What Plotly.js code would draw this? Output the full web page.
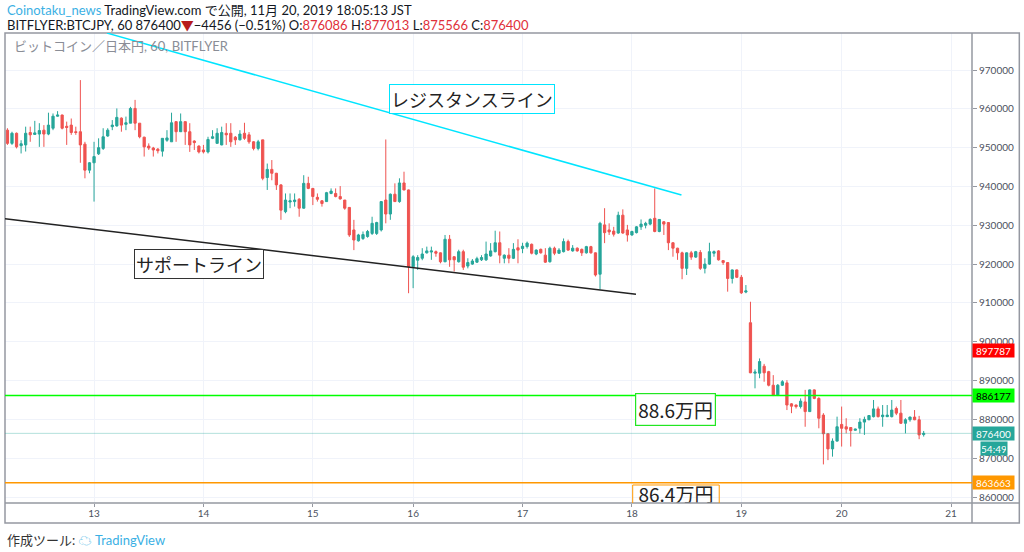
<!DOCTYPE html>
<html>
<head>
<meta charset="utf-8">
<script src="https://cdn.plot.ly/plotly-3.0.1.min.js"></script>
<style>html,body{margin:0;padding:0;background:#fff;}#chart{width:1024px;height:552px;}</style>
</head>
<body>
<div id="chart"></div>
<script>
// ---------- DATA ----------
const startTime = '2019-11-12T05:00:00Z';
const missingHours = ['2019-11-15 04:00', '2019-11-15 05:00', '2019-11-19 02:00', '2019-11-19 03:00'];

const opens = [
954500,951100,953700,950500,950700,953900,953400,953500,954500,953500,
955000,958100,958400,955500,955800,954100,954100,950900,944200,946100,
948400,949800,953000,955400,955600,957600,956000,956300,960100,956300,
952700,950400,949900,949600,949100,951900,951500,956700,954100,956700,
954100,951700,950400,949400,948900,952400,951100,950700,953700,953700,
952700,952000,953700,953300,951500,949800,952000,942300,944400,943400,
940400,933500,936000,936100,936700,934400,940800,939500,937200,936300,
936100,938200,938200,937400,936500,934600,928800,926000,926600,927100,
927900,927900,928800,936500,932900,938000,936100,940900,939100,919300,
921000,921500,922900,923100,923200,922900,920600,926400,921900,920600,
923200,919500,920000,920500,921100,921100,922100,923200,925500,921500,
922300,921500,924200,924000,924500,925100,922600,923800,922300,920600,
924100,922800,923200,925800,923400,924100,923800,922900,924500,922900,
917400,930100,928800,928500,928000,932600,928800,927500,928100,929600,
930000,930300,931800,928400,930900,930700,925500,924100,922900,918900,
922900,921800,923000,918900,920000,922800,923400,920900,920400,916300,
918500,916600,912800,904900,891900,891900,893700,892300,888800,886300,
888800,889400,884000,883700,883300,884500,882000,887600,885400,881100,
876300,872400,874400,878700,878100,877900,877200,877700,879300,879900,
880700,882700,880700,880700,880700,882800,881600,879000,879900,880600,
879900,876086];

const highs = [
955000,954100,953900,951900,955400,955400,956900,956300,955800,959000,
958800,959400,958500,956700,957500,955400,967400,951500,946300,951500,
952400,955000,955000,957100,960100,957800,958000,960500,962300,956300,
952800,951100,950200,949900,952400,954500,959000,956700,958800,956700,
956300,951900,950600,950700,952800,954500,955000,955400,956300,956300,
953000,954500,956400,954000,951700,952000,952000,945900,946800,943500,
940600,938200,938200,938200,937000,942900,942500,939600,938200,936500,
938600,939500,939500,940100,936500,934700,931400,927800,928400,928800,
932200,930900,936200,952100,938200,940800,942100,943800,939200,922300,
922300,924100,924500,924500,923500,923000,927500,927500,922000,923700,
923700,921500,921300,921900,922300,925800,925400,928600,928400,922500,
924100,925400,926400,925500,925800,925300,923800,924000,924100,924500,
924500,924100,926600,926300,924900,924300,924000,924700,924700,923000,
930900,934400,930500,929600,933500,934100,930100,928600,929800,931500,
930900,931800,939500,931600,931100,930800,925600,924200,923200,923000,
923400,923400,923600,921500,925500,923500,923600,921000,920500,918600,
918600,917200,914600,910300,892900,895700,894300,892500,891400,889100,
890100,890100,884200,883800,885400,887600,887700,887700,885700,881600,
876400,875100,880700,883300,880300,878000,877600,880300,880700,881100,
885000,883300,883700,883700,885000,883300,885000,880300,880700,882400,
880900,877013];

const lows = [
950700,950700,949800,948500,949000,951500,953300,950200,950200,953200,
954500,958000,954700,950700,953300,953300,946100,942100,943400,936100,
948100,949400,952800,954500,955400,954100,954500,956300,954500,952400,
947700,949400,947700,948500,947700,951500,951500,951500,954100,950700,
948900,949400,948500,948500,948500,952200,951100,950600,950700,950200,
950700,951900,952000,951000,949300,949300,941600,939100,941600,939100,
931400,933100,934400,934800,932200,934300,939300,935200,936100,934800,
936000,938000,937200,936600,934000,927000,923600,925800,926200,926800,
927500,927500,928400,930500,931400,936000,935800,939000,912500,913800,
918500,921000,922700,921100,921900,920200,920500,919300,918100,920400,
918500,918900,919800,920300,920800,920800,921900,923000,920200,920200,
920200,921300,920200,922800,924000,922500,922300,922700,920300,920400,
922300,922600,923000,923400,923200,923200,922100,922700,922700,916800,
913500,925400,927500,927100,927800,927800,925800,927300,927900,928800,
929200,930000,928200,928200,927500,923600,921900,921100,916100,917200,
921100,921600,918500,917600,919800,921900,920900,919800,912900,915000,
916400,912300,912500,891900,888000,890600,889700,888500,886000,886000,
888600,882400,881600,882800,882800,878100,881900,885200,877700,868400,
869500,870400,874300,873000,876400,873000,877100,876400,876000,879800,
880500,880500,878100,880600,880500,881100,878800,876400,879400,879800,
874900,875566];

const closes = [
951100,953700,950200,951000,953700,953300,953800,954400,953500,955800,
958100,958400,955000,955200,953900,953900,950700,944200,946100,947700,
950000,952800,954500,955800,957800,955800,956400,960100,956300,952800,
950200,949900,949400,949200,952400,952500,956400,954100,956700,954100,
950700,951300,948900,948900,952100,952800,953700,953900,953300,951500,
952000,953500,952400,951500,949800,951500,942100,944400,943400,940400,
933900,936500,936300,936500,934400,940800,939500,937400,936700,935600,
938400,938800,937400,936800,934400,927500,926200,927500,927600,928400,
930500,930700,936100,932900,938000,936100,940900,939100,919300,921900,
921700,922600,923400,923400,922800,920600,926400,921100,921100,923200,
919200,920400,920800,921400,921700,922600,923400,925500,922300,922300,
921500,923800,923600,924600,925400,922800,923600,922900,920500,924100,
922800,923600,925800,923600,924100,923400,922900,924500,922900,917200,
930500,928100,928300,927700,932600,928000,927500,928400,929600,930300,
930500,931500,928400,931500,930300,925500,924100,922900,918900,922900,
921800,923200,918900,920000,923200,923200,921100,920400,916300,918500,
916600,912600,913100,892000,892200,894900,892000,888800,886300,888800,
889700,883700,883400,883300,884700,882000,887600,885400,880300,876300,
872400,874400,878100,877700,877500,877100,877500,879300,880000,881000,
882700,880700,881100,881100,882400,881600,879000,879900,880600,879900,
876000,876400];

const dayTicks  = ['2019-11-13','2019-11-14','2019-11-15','2019-11-16','2019-11-17','2019-11-18','2019-11-19','2019-11-20','2019-11-21'];
const dayLabels = ['13','14','15','16','17','18','19','20','21'];

const resistancePts = {x: ['2019-11-13 02:51', '2019-11-18 10:52'], y: [979500, 937800]};
const supportPts    = {x: ['2019-11-12 04:28', '2019-11-18 00:53'], y: [931670, 912220]};
const greenLevel = 886177;
const orangeLevel = 863663;
const lastPrice = 876400;
const redTag = 897787;
const countdown = '54:49';

// ---------- BUILD ----------
function fmt(d){ return d.toISOString().slice(0,16).replace('T',' '); }
const times = [];
let t = Date.parse(startTime);
while (times.length < opens.length) {
  const s = fmt(new Date(t));
  if (!missingHours.includes(s)) times.push(s);
  t += 3600000;
}

const FONT = 'Lato, "Noto Sans CJK JP", sans-serif';
const JFONT = '"Noto Sans CJK JP", "Noto Sans", sans-serif';
const PL = 5, PR = 971.7, PT = 33, PB = 503;
const px = x => (x - PL) / (PR - PL);
const py = y => (PB - y) / (PB - PT);

const candles = {
  type: 'candlestick', x: times, open: opens, high: highs, low: lows, close: closes,
  increasing: {line: {color: '#26a69a', width: 1}, fillcolor: '#26a69a'},
  decreasing: {line: {color: '#ef5350', width: 1}, fillcolor: '#ef5350'},
  whiskerwidth: 0, hoverinfo: 'skip'
};

const clippedLabel = {
  type: 'scatter', mode: 'text', x: ['2019-11-18 09:39'], y: [860050], text: ['86.4万円'],
  textfont: {family: JFONT, size: 19, color: '#222'}, cliponaxis: true, hoverinfo: 'skip'
};

const shapes = [
  // outer frame
  {type:'rect', xref:'paper', yref:'paper', x0:0, x1:px(1019), y0:py(523), y1:1, line:{color:'#9598a1', width:1.5}},
  {type:'line', xref:'paper', yref:'paper', x0:0, x1:px(1019), y0:0, y1:0, line:{color:'#9598a1', width:1.5}},
  {type:'line', xref:'paper', yref:'paper', x0:1, x1:1, y0:py(523), y1:1, line:{color:'#9598a1', width:1.5}},
  // price lines
  {type:'line', xref:'paper', yref:'y', x0:0, x1:1, y0:lastPrice, y1:lastPrice, line:{color:'rgba(38,166,154,0.35)', width:1}},
  {type:'line', xref:'paper', yref:'y', x0:0, x1:1, y0:greenLevel, y1:greenLevel, line:{color:'#00ff00', width:1.5}},
  {type:'line', xref:'paper', yref:'y', x0:0, x1:1, y0:orangeLevel, y1:orangeLevel, line:{color:'#ff9800', width:1.5}},
  // trend lines
  {type:'line', xref:'x', yref:'y', x0:resistancePts.x[0], x1:resistancePts.x[1], y0:resistancePts.y[0], y1:resistancePts.y[1], line:{color:'#00e5ff', width:1.5}},
  {type:'line', xref:'x', yref:'y', x0:supportPts.x[0], x1:supportPts.x[1], y0:supportPts.y[0], y1:supportPts.y[1], line:{color:'#222', width:1.5}},
  // clipped box for 86.4万円
  {type:'rect', xref:'x', yref:'y', x0:'2019-11-18 00:10', x1:'2019-11-18 19:09', y0:850000, y1:863100, line:{color:'#ff9800', width:1}, fillcolor:'rgba(255,255,255,0)'}
];

function tag(y, text, bg, fg){
  return {xref:'paper', yref:'y', x:px(972), y:y, xanchor:'left', yanchor:'middle', text:text, showarrow:false,
    bgcolor:bg, font:{family:FONT, size:10, color:fg}, width:39, height:11, borderpad:1};
}

const annotations = [
  {xref:'paper', yref:'paper', x:0, y:py(10), xanchor:'left', yanchor:'middle', showarrow:false,
   text:'<span style="color:#3bb0e4">Coinotaku_news</span> TradingView.com で公開, 11月 20, 2019 18:05:13 JST',
   font:{family:FONT, size:13, color:'#131722'}},
  {xref:'paper', yref:'paper', x:0, y:py(25), xanchor:'left', yanchor:'middle', showarrow:false,
   text:'BITFLYER:BTCJPY, 60 876400<span style="color:#b71c1c">▼</span>−4456 (−0.51%) O:<span style="color:#e0303a">876086</span> H:<span style="color:#e0303a">877013</span> L:<span style="color:#e0303a">875566</span> C:<span style="color:#e0303a">876400</span>',
   font:{family:FONT, size:13, color:'#131722'}},
  {xref:'paper', yref:'paper', x:px(12), y:py(46), xanchor:'left', yanchor:'middle', showarrow:false,
   text:'ビットコイン／日本円, 60, BITFLYER', font:{family:FONT, size:13, color:'#8a8d96'}},
  {xref:'paper', yref:'paper', x:0, y:py(540), xanchor:'left', yanchor:'middle', showarrow:false,
   text:'作成ツール: <span style="color:#3bb0e4">☁ TradingView</span>', font:{family:FONT, size:13, color:'#333'}},
  // label boxes
  {xref:'x', yref:'y', x:'2019-11-16 13:00', y:962600, text:'レジスタンスライン', showarrow:false,
   font:{family:JFONT, size:18, color:'#222'}, bordercolor:'#00e5ff', borderwidth:1, borderpad:1, bgcolor:'#fff'},
  {xref:'x', yref:'y', x:'2019-11-13 23:04', y:919900, text:'サポートライン', showarrow:false,
   font:{family:JFONT, size:18, color:'#222'}, bordercolor:'#333', borderwidth:1, borderpad:1, bgcolor:'#fff'},
  {xref:'x', yref:'y', x:'2019-11-18 09:39', y:882500, text:'88.6万円', showarrow:false,
   font:{family:JFONT, size:19, color:'#222'}, bordercolor:'#22e622', borderwidth:1.2, borderpad:2, bgcolor:'#fff'},
  // axis tags
  tag(redTag, String(redTag), '#ff0000', '#fff'),
  tag(greenLevel, String(greenLevel), '#00ff00', '#000'),
  tag(lastPrice, String(lastPrice), '#26a69a', '#fff'),
  tag(orangeLevel, String(orangeLevel), '#ff9800', '#fff'),
  {xref:'paper', yref:'y', x:px(993.7), y:872600, xanchor:'center', yanchor:'middle', text:countdown, showarrow:false,
   bgcolor:'#26a69a', font:{family:FONT, size:10, color:'#fff'}, width:24, height:11, borderpad:1}
];

const layout = {
  width: 1024, height: 552,
  margin: {l: PL, r: 1024 - PR, t: PT, b: 552 - PB, pad: 0},
  paper_bgcolor: '#fff', plot_bgcolor: '#fff', showlegend: false,
  font: {family: FONT, size: 10, color: '#4c525e'},
  xaxis: {
    type: 'date', range: ['2019-11-12 04:28', '2019-11-21 04:36'],
    rangebreaks: [{values: ['2019-11-15 03:30:00', '2019-11-19 01:30:00'], dvalue: 7200000}],
    rangeslider: {visible: false}, tickvals: dayTicks, ticktext: dayLabels,
    ticks: 'outside', ticklen: 3, tickcolor: '#9598a1', ticklabelstandoff: -2, showgrid: true, gridcolor: '#f0f3fa',
    showline: false, zeroline: false, tickfont: {family: FONT, size: 10, color: '#4c525e'}, fixedrange: true
  },
  yaxis: {
    side: 'right', range: [858460, 979530], dtick: 10000, tick0: 0, tickformat: 'd',
    ticks: 'outside', ticklen: 4, tickcolor: '#9598a1', showgrid: true, gridcolor: '#f0f3fa',
    showline: false, zeroline: false, tickfont: {family: FONT, size: 10, color: '#4c525e'}, fixedrange: true
  },
  shapes: shapes, annotations: annotations
};

Plotly.newPlot('chart', [candles, clippedLabel], layout, {displayModeBar: false, staticPlot: true});
</script>
</body>
</html>
